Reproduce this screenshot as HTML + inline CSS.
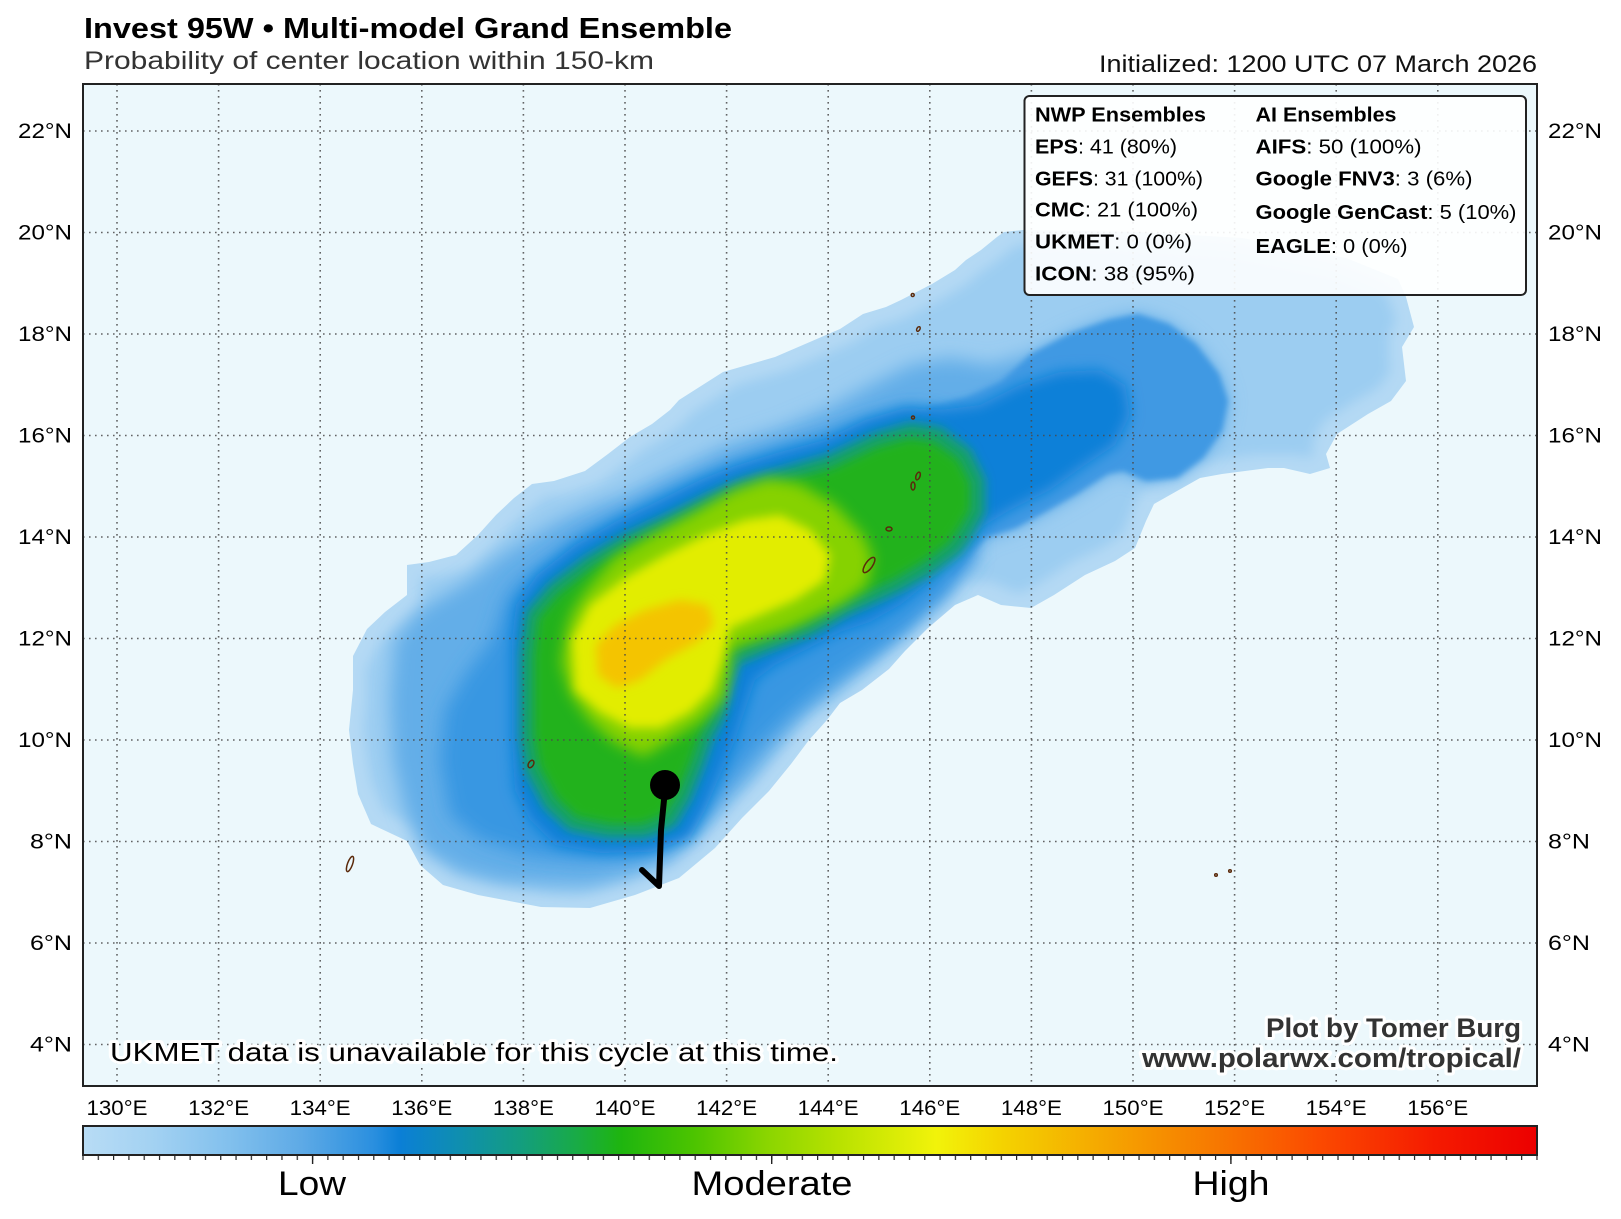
<!DOCTYPE html>
<html><head><meta charset="utf-8"><style>
html,body{margin:0;padding:0;background:#fff;}
svg{display:block;font-family:"Liberation Sans",sans-serif;}
</style></head><body>
<svg width="1621" height="1219" viewBox="0 0 1621 1219" xmlns="http://www.w3.org/2000/svg">
<defs>
<polygon id="env" points="478,895 541,907 590,908 635,895 679,878 715,848 742,818 769,791 791,764 809,740 827,720 840,703 862,690 889,669 905,651 928,628 955,605 978,595 1001,605 1031,608 1054,595 1085,575 1115,561 1135,548 1146,521 1154,504 1177,491 1200,478 1222,474 1268,468 1284,468 1310,474 1330,468 1326,454 1337,434 1368,414 1391,401 1406,381 1402,347 1414,327 1406,297 1398,279 1346,258 1242,238 1138,232 1023,230 1004,232 997,237 981,250 966,260 955,270 932,284 901,300 886,307 863,314 840,329 775,357 723,372 679,400 670,410 652,424 630,437 608,454 585,471 554,481 532,484 514,498 496,515 478,535 456,555 429,562 407,565 407,595 385,612 367,629 353,656 353,690 349,730 353,764 358,794 371,824 407,841 420,865 443,885"/>
<clipPath id="envclip"><use href="#env"/></clipPath>
<clipPath id="mapclip"><rect x="83" y="84" width="1454" height="1002"/></clipPath>
<filter id="inset" x="-10%" y="-10%" width="120%" height="120%">
  <feMorphology in="SourceAlpha" operator="erode" radius="13" result="er"/>
  <feGaussianBlur in="er" stdDeviation="6" result="bl"/>
  <feFlood flood-color="#9ccdf1"/>
  <feComposite operator="in" in2="bl"/>
</filter>
<filter id="b3" x="-20%" y="-20%" width="140%" height="140%"><feGaussianBlur stdDeviation="3"/></filter>
<filter id="b5" x="-20%" y="-20%" width="140%" height="140%"><feGaussianBlur stdDeviation="5"/></filter>
<filter id="b7" x="-20%" y="-20%" width="140%" height="140%"><feGaussianBlur stdDeviation="7"/></filter>
<filter id="b9" x="-20%" y="-20%" width="140%" height="140%"><feGaussianBlur stdDeviation="9"/></filter>
<linearGradient id="cmap" x1="0" y1="0" x2="1" y2="0">
  <stop offset="0" stop-color="#b8dcf5"/>
  <stop offset="0.05" stop-color="#a2d1f2"/>
  <stop offset="0.10" stop-color="#82c0ed"/>
  <stop offset="0.15" stop-color="#5eaae6"/>
  <stop offset="0.20" stop-color="#2a8fdf"/>
  <stop offset="0.218" stop-color="#0b7fd6"/>
  <stop offset="0.26" stop-color="#0f8fae"/>
  <stop offset="0.30" stop-color="#139d80"/>
  <stop offset="0.34" stop-color="#19ab45"/>
  <stop offset="0.37" stop-color="#1eb50f"/>
  <stop offset="0.42" stop-color="#4cc400"/>
  <stop offset="0.47" stop-color="#8ad500"/>
  <stop offset="0.52" stop-color="#b8e200"/>
  <stop offset="0.587" stop-color="#f2f30a"/>
  <stop offset="0.63" stop-color="#f4d400"/>
  <stop offset="0.70" stop-color="#f5a800"/>
  <stop offset="0.78" stop-color="#f77800"/>
  <stop offset="0.85" stop-color="#fb4a00"/>
  <stop offset="0.93" stop-color="#f51a00"/>
  <stop offset="1" stop-color="#ec0000"/>
</linearGradient>
<pattern id="tk" x="82.4" y="1155" width="15.305" height="6" patternUnits="userSpaceOnUse"><rect x="0" y="0" width="1.2" height="5" fill="#222"/></pattern>
</defs>

<!-- map background -->
<rect x="83" y="84" width="1454" height="1002" fill="#ecf8fc"/>

<g clip-path="url(#mapclip)">
  <!-- envelope -->
  <use href="#env" fill="#b4d9f4"/>
  <use href="#env" filter="url(#inset)"/>
  <g clip-path="url(#envclip)">
    <!-- mid blue -->
    <polygon filter="url(#b9)" fill="#64aee8" points="470,580 500,556 524,541 560,520 600,503 625,495 670,472 727,445 780,428 828,408 870,385 910,365 950,358 990,365 1031,354 1069,334 1108,320 1138,314 1169,324 1196,344 1219,374 1228,401 1222,431 1203,458 1177,478 1146,481 1123,471 1108,474 1077,494 1047,511 1016,528 985,538 970,555 951,578 951,590 920,615 898,638 875,660 850,680 828,700 810,710 792,728 773,751 752,776 727,802 700,833 670,860 630,876 590,886 545,885 500,882 460,872 422,850 405,810 393,760 390,700 395,640 420,610 450,592"/>
    <!-- NE lobe -->
    <polygon filter="url(#b3)" fill="#3f99e3" points="928,407 966,397 1001,381 1031,354 1069,334 1108,320 1138,314 1169,324 1196,344 1219,374 1228,401 1222,431 1203,458 1177,478 1146,481 1123,471 1108,474 1077,494 1047,511 1016,528 985,538 970,555 951,578 940,540 930,480 925,430"/>
    <!-- blue band -->
    <polygon filter="url(#b9)" fill="#3897e2" points="515,585 540,565 580,535 625,512 670,490 727,465 780,447 828,432 870,418 905,408 935,410 960,430 975,470 975,560 940,600 905,632 870,655 845,672 820,690 790,715 760,745 730,780 700,815 665,845 630,858 580,860 530,855 480,840 450,815 440,760 445,710 465,675 492,640 505,600"/>
    <!-- deep blue -->
    <polygon filter="url(#b7)" fill="#0c80d8" points="516,605 537,575 575,545 615,522 660,500 700,480 735,466 780,452 825,440 865,420 905,408 940,410 980,405 1020,385 1060,372 1100,370 1125,385 1130,415 1115,445 1085,465 1050,490 1010,510 985,525 965,545 945,565 925,585 900,605 870,622 840,632 805,650 775,665 755,680 745,710 735,740 720,775 705,810 690,838 650,852 600,853 555,845 530,820 515,790 512,740 512,690 512,640"/>
    <!-- teal + green -->
    <polygon filter="url(#b5)" fill="#16a06e" stroke="#16a06e" stroke-width="14" stroke-linejoin="round" points="532,615 554,589 590,562 626,541 670,521 710,501 742,487 786,474 831,461 876,440 911,430 938,434 965,454 978,481 978,511 965,535 956,548 929,568 898,585 876,595 844,609 809,629 764,646 733,659 724,686 719,713 706,737 697,764 684,797 670,821 644,831 608,831 572,824 550,804 532,770 527,737 527,690 527,656"/>
    <polygon filter="url(#b5)" fill="#23b21c" points="538,618 558,594 592,568 628,547 672,527 712,507 744,494 788,480 832,468 877,447 910,438 934,442 958,459 970,483 970,510 958,531 948,544 923,562 894,579 872,589 840,603 805,622 760,639 727,652 717,684 712,711 700,734 691,761 678,793 664,815 642,824 610,824 576,817 556,798 539,766 534,735 534,690 534,656"/>
    <!-- yellow-green -->
    <polygon filter="url(#b7)" fill="#86d200" points="585,592 614,558 650,536 695,512 733,490 768,478 800,484 835,505 863,535 873,558 867,585 843,603 815,617 787,630 752,641 732,648 730,670 725,698 700,722 671,740 643,757 612,741 589,720 571,695 561,663 566,630 572,612"/>
    <!-- yellow -->
    <polygon filter="url(#b5)" fill="#e2ed00" points="575,690 572,640 590,605 625,578 665,555 705,535 745,520 780,515 810,530 830,555 825,580 795,600 760,615 730,628 722,660 712,690 690,712 660,728 630,728 600,712"/>
    <!-- orange core -->
    <polygon filter="url(#b5)" fill="#f4c400" points="598,675 596,645 615,625 645,610 680,600 708,605 714,625 697,642 665,660 640,680 617,688"/>
  </g>

  <!-- islands -->
  <g fill="none" stroke="#5b2a0b" stroke-width="1.5">
    <ellipse cx="350" cy="864" rx="2.5" ry="8" transform="rotate(20 350 864)"/>
    <ellipse cx="531" cy="764" rx="2.5" ry="4" transform="rotate(30 531 764)"/>
    <ellipse cx="869" cy="565" rx="3.5" ry="9" transform="rotate(35 869 565)"/>
    <ellipse cx="889" cy="529" rx="3" ry="2"/>
    <ellipse cx="913" cy="486" rx="2" ry="4"/>
    <ellipse cx="918" cy="476" rx="2" ry="4" transform="rotate(20 918 476)"/>
    <circle cx="913" cy="417.5" r="1.5"/>
    <circle cx="912.7" cy="295" r="1.5"/>
    <ellipse cx="918.4" cy="329" rx="1.5" ry="2.5" transform="rotate(30 918.4 329)"/>
    <circle cx="1216" cy="875" r="1.3"/>
    <circle cx="1230" cy="871" r="1.3"/>
  </g>

  <!-- gridlines -->
  <g stroke="#4a4a4a" stroke-width="1.6" stroke-dasharray="1.6 4.4" opacity="0.85">
    <line x1="117" y1="84" x2="117" y2="1086"/>
    <line x1="218.6" y1="84" x2="218.6" y2="1086"/>
    <line x1="320.2" y1="84" x2="320.2" y2="1086"/>
    <line x1="421.8" y1="84" x2="421.8" y2="1086"/>
    <line x1="523.4" y1="84" x2="523.4" y2="1086"/>
    <line x1="625" y1="84" x2="625" y2="1086"/>
    <line x1="726.6" y1="84" x2="726.6" y2="1086"/>
    <line x1="828.2" y1="84" x2="828.2" y2="1086"/>
    <line x1="929.8" y1="84" x2="929.8" y2="1086"/>
    <line x1="1031.4" y1="84" x2="1031.4" y2="1086"/>
    <line x1="1133" y1="84" x2="1133" y2="1086"/>
    <line x1="1234.6" y1="84" x2="1234.6" y2="1086"/>
    <line x1="1336.2" y1="84" x2="1336.2" y2="1086"/>
    <line x1="1437.8" y1="84" x2="1437.8" y2="1086"/>
    <line x1="83" y1="131" x2="1537" y2="131"/>
    <line x1="83" y1="232.5" x2="1537" y2="232.5"/>
    <line x1="83" y1="334" x2="1537" y2="334"/>
    <line x1="83" y1="435.5" x2="1537" y2="435.5"/>
    <line x1="83" y1="537" x2="1537" y2="537"/>
    <line x1="83" y1="638.5" x2="1537" y2="638.5"/>
    <line x1="83" y1="740" x2="1537" y2="740"/>
    <line x1="83" y1="841.5" x2="1537" y2="841.5"/>
    <line x1="83" y1="943" x2="1537" y2="943"/>
    <line x1="83" y1="1044.5" x2="1537" y2="1044.5"/>
  </g>

  <!-- track -->
  <path d="M665 790 L661 830 L659 886 L642 870" fill="none" stroke="#000" stroke-width="6" stroke-linecap="round" stroke-linejoin="round"/>
  <circle cx="665" cy="785" r="15" fill="#000"/>

  <!-- legend -->
  <rect x="1024.5" y="96" width="501.5" height="199" rx="5" fill="#ffffff" fill-opacity="0.9" stroke="#222" stroke-width="2"/>
  <g font-size="20" fill="#000">
    <text x="1035" y="121.7" font-weight="bold" textLength="171" lengthAdjust="spacingAndGlyphs">NWP Ensembles</text>
    <text x="1035" y="153.3" textLength="142" lengthAdjust="spacingAndGlyphs"><tspan font-weight="bold">EPS</tspan>: 41 (80%)</text>
    <text x="1035" y="185.7" textLength="168" lengthAdjust="spacingAndGlyphs"><tspan font-weight="bold">GEFS</tspan>: 31 (100%)</text>
    <text x="1035" y="216.7" textLength="163" lengthAdjust="spacingAndGlyphs"><tspan font-weight="bold">CMC</tspan>: 21 (100%)</text>
    <text x="1035" y="248.3" textLength="157" lengthAdjust="spacingAndGlyphs"><tspan font-weight="bold">UKMET</tspan>: 0 (0%)</text>
    <text x="1035" y="280.7" textLength="160" lengthAdjust="spacingAndGlyphs"><tspan font-weight="bold">ICON</tspan>: 38 (95%)</text>
    <text x="1255.5" y="121.7" font-weight="bold" textLength="141" lengthAdjust="spacingAndGlyphs">AI Ensembles</text>
    <text x="1255.5" y="153.3" textLength="166" lengthAdjust="spacingAndGlyphs"><tspan font-weight="bold">AIFS</tspan>: 50 (100%)</text>
    <text x="1255.5" y="185.7" textLength="217" lengthAdjust="spacingAndGlyphs"><tspan font-weight="bold">Google FNV3</tspan>: 3 (6%)</text>
    <text x="1255.5" y="219" textLength="261" lengthAdjust="spacingAndGlyphs"><tspan font-weight="bold">Google GenCast</tspan>: 5 (10%)</text>
    <text x="1255.5" y="253" textLength="152" lengthAdjust="spacingAndGlyphs"><tspan font-weight="bold">EAGLE</tspan>: 0 (0%)</text>
  </g>

  <!-- notes -->
  <text x="110" y="1061" font-size="26" fill="#000" stroke="#fff" stroke-width="6" stroke-linejoin="round" paint-order="stroke" textLength="728" lengthAdjust="spacingAndGlyphs">UKMET data is unavailable for this cycle at this time.</text>
  <text x="1521" y="1037" text-anchor="end" font-size="27" font-weight="bold" fill="#333" stroke="#fff" stroke-width="6" stroke-linejoin="round" paint-order="stroke" textLength="255" lengthAdjust="spacingAndGlyphs">Plot by Tomer Burg</text>
  <text x="1521" y="1067" text-anchor="end" font-size="27" font-weight="bold" fill="#333" stroke="#fff" stroke-width="6" stroke-linejoin="round" paint-order="stroke" textLength="379" lengthAdjust="spacingAndGlyphs">www.polarwx.com/tropical/</text>
</g>

<!-- frame -->
<rect x="83" y="84" width="1454" height="1002" fill="none" stroke="#222" stroke-width="2"/>

<!-- titles -->
<text x="84" y="38" font-size="29" font-weight="bold" fill="#000" textLength="648" lengthAdjust="spacingAndGlyphs">Invest 95W • Multi-model Grand Ensemble</text>
<text x="84" y="69" font-size="25" fill="#333" textLength="570" lengthAdjust="spacingAndGlyphs">Probability of center location within 150-km</text>
<text x="1537" y="72" text-anchor="end" font-size="24" fill="#111" textLength="438" lengthAdjust="spacingAndGlyphs">Initialized: 1200 UTC 07 March 2026</text>

<!-- lat labels left -->
<g font-size="21" fill="#000" text-anchor="end">
  <text x="72" y="138" textLength="54" lengthAdjust="spacingAndGlyphs">22°N</text>
  <text x="72" y="239.5" textLength="54" lengthAdjust="spacingAndGlyphs">20°N</text>
  <text x="72" y="341" textLength="54" lengthAdjust="spacingAndGlyphs">18°N</text>
  <text x="72" y="442.5" textLength="54" lengthAdjust="spacingAndGlyphs">16°N</text>
  <text x="72" y="544" textLength="54" lengthAdjust="spacingAndGlyphs">14°N</text>
  <text x="72" y="645.5" textLength="54" lengthAdjust="spacingAndGlyphs">12°N</text>
  <text x="72" y="747" textLength="54" lengthAdjust="spacingAndGlyphs">10°N</text>
  <text x="72" y="848.5" textLength="42" lengthAdjust="spacingAndGlyphs">8°N</text>
  <text x="72" y="950" textLength="42" lengthAdjust="spacingAndGlyphs">6°N</text>
  <text x="72" y="1051.5" textLength="42" lengthAdjust="spacingAndGlyphs">4°N</text>
</g>
<!-- lat labels right -->
<g font-size="21" fill="#000">
  <text x="1548" y="138" textLength="54" lengthAdjust="spacingAndGlyphs">22°N</text>
  <text x="1548" y="239.5" textLength="54" lengthAdjust="spacingAndGlyphs">20°N</text>
  <text x="1548" y="341" textLength="54" lengthAdjust="spacingAndGlyphs">18°N</text>
  <text x="1548" y="442.5" textLength="54" lengthAdjust="spacingAndGlyphs">16°N</text>
  <text x="1548" y="544" textLength="54" lengthAdjust="spacingAndGlyphs">14°N</text>
  <text x="1548" y="645.5" textLength="54" lengthAdjust="spacingAndGlyphs">12°N</text>
  <text x="1548" y="747" textLength="54" lengthAdjust="spacingAndGlyphs">10°N</text>
  <text x="1548" y="848.5" textLength="42" lengthAdjust="spacingAndGlyphs">8°N</text>
  <text x="1548" y="950" textLength="42" lengthAdjust="spacingAndGlyphs">6°N</text>
  <text x="1548" y="1051.5" textLength="42" lengthAdjust="spacingAndGlyphs">4°N</text>
</g>
<!-- lon labels -->
<g font-size="21" fill="#000" text-anchor="middle">
  <text x="117" y="1115" textLength="61" lengthAdjust="spacingAndGlyphs">130°E</text>
  <text x="218.6" y="1115" textLength="61" lengthAdjust="spacingAndGlyphs">132°E</text>
  <text x="320.2" y="1115" textLength="61" lengthAdjust="spacingAndGlyphs">134°E</text>
  <text x="421.8" y="1115" textLength="61" lengthAdjust="spacingAndGlyphs">136°E</text>
  <text x="523.4" y="1115" textLength="61" lengthAdjust="spacingAndGlyphs">138°E</text>
  <text x="625" y="1115" textLength="61" lengthAdjust="spacingAndGlyphs">140°E</text>
  <text x="726.6" y="1115" textLength="61" lengthAdjust="spacingAndGlyphs">142°E</text>
  <text x="828.2" y="1115" textLength="61" lengthAdjust="spacingAndGlyphs">144°E</text>
  <text x="929.8" y="1115" textLength="61" lengthAdjust="spacingAndGlyphs">146°E</text>
  <text x="1031.4" y="1115" textLength="61" lengthAdjust="spacingAndGlyphs">148°E</text>
  <text x="1133" y="1115" textLength="61" lengthAdjust="spacingAndGlyphs">150°E</text>
  <text x="1234.6" y="1115" textLength="61" lengthAdjust="spacingAndGlyphs">152°E</text>
  <text x="1336.2" y="1115" textLength="61" lengthAdjust="spacingAndGlyphs">154°E</text>
  <text x="1437.8" y="1115" textLength="61" lengthAdjust="spacingAndGlyphs">156°E</text>
</g>

<!-- colorbar -->
<rect x="83" y="1126" width="1454" height="29" fill="url(#cmap)" stroke="#222" stroke-width="2"/>
<rect x="82" y="1155" width="1457" height="5" fill="url(#tk)"/>
<g stroke="#222" stroke-width="1.4">
  <line x1="312.6" y1="1155" x2="312.6" y2="1164"/>
  <line x1="771.7" y1="1155" x2="771.7" y2="1164"/>
  <line x1="1230.9" y1="1155" x2="1230.9" y2="1164"/>
</g>
<g font-size="34" fill="#000" text-anchor="middle">
  <text x="312" y="1195" textLength="68" lengthAdjust="spacingAndGlyphs">Low</text>
  <text x="772" y="1195" textLength="161" lengthAdjust="spacingAndGlyphs">Moderate</text>
  <text x="1231" y="1195" textLength="77" lengthAdjust="spacingAndGlyphs">High</text>
</g>
</svg>
</body></html>
